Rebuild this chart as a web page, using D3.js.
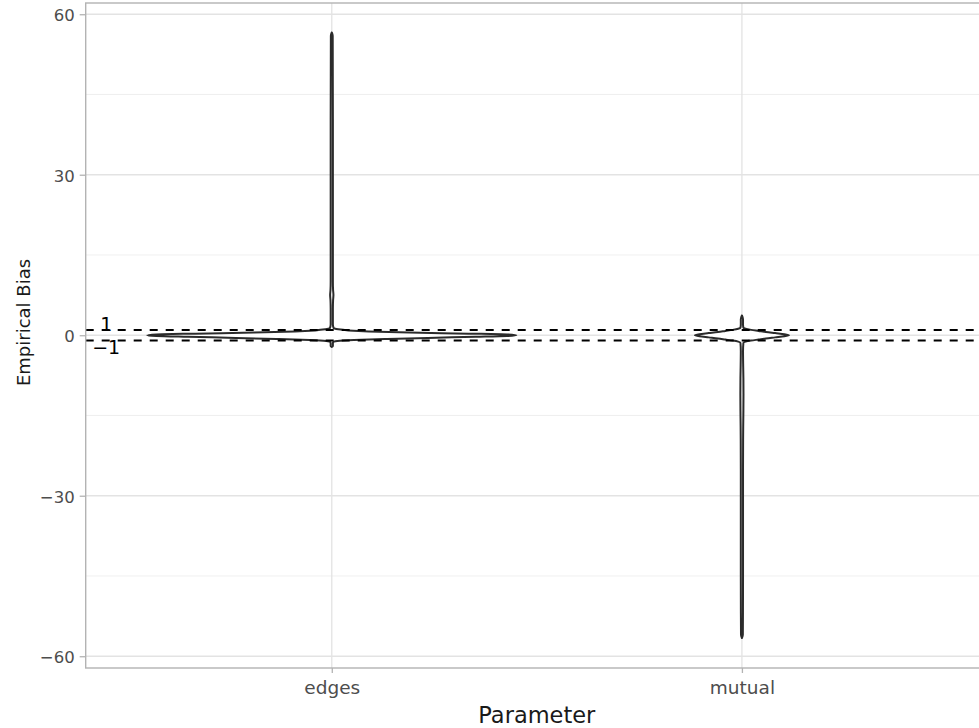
<!DOCTYPE html>
<html>
<head>
<meta charset="utf-8">
<script src="https://cdn.jsdelivr.net/npm/d3@7"></script>
<style>
  html, body { margin: 0; padding: 0; background: #fff; overflow: hidden; }
  svg { display: block; }
</style>
</head>
<body>
<svg id="chart" width="979" height="728"></svg>
<script>
// ---- data ----
const categories = ["edges", "mutual"];
const yTicks = [-60, -30, 0, 30, 60];
const yMinorTicks = [-45, -15, 15, 45];
const refLines = [1, -1];
const refLabels = ["1", "−1"];

// violin outlines: bias value levels and relative half-width (density scaled, 1 = widest)
const edgesBias  = [-2.2, -2.0, -1.6, -1.3, -1.1, -0.9, -0.7, -0.5, -0.3, -0.15, 0, 0.15, 0.3, 0.5, 0.7, 0.9, 1.1, 1.35, 2, 5, 6.5, 7.5, 8.5, 10, 20, 40, 56, 56.6];
const edgesWidth = [0, 0.006, 0.006, 0.007, 0.03, 0.12, 0.3, 0.52, 0.78, 0.95, 1.0, 0.95, 0.74, 0.42, 0.2, 0.09, 0.035, 0.01, 0.006, 0.006, 0.007, 0.009, 0.007, 0.006, 0.006, 0.006, 0.005, 0];
const mutualBias  = [3.7, 3.0, 2.0, 1.4, 1.2, 1.0, 0.8, 0.6, 0.4, 0.2, 0, -0.2, -0.4, -0.6, -0.8, -1.0, -1.2, -1.4, -3, -6, -8, -11, -14, -17, -25, -45, -56, -56.6];
const mutualWidth = [0, 0.006, 0.006, 0.008, 0.02, 0.05, 0.09, 0.13, 0.18, 0.23, 0.255, 0.23, 0.18, 0.13, 0.09, 0.05, 0.02, 0.008, 0.006, 0.007, 0.008, 0.0085, 0.008, 0.007, 0.006, 0.006, 0.005, 0];

const violins = [
  { cat: "edges", bias: edgesBias, width: edgesWidth },
  { cat: "mutual", bias: mutualBias, width: mutualWidth }
];

// ---- layout ----
const svg = d3.select("#chart");
const panel = { left: 85.7, top: 3, right: 988, bottom: 668 };

const xPos = d3.scaleLinear().domain([0.4, categories.length + 0.6]).range([panel.left, panel.right]);
const xCat = c => xPos(categories.indexOf(c) + 1);
const y = d3.scaleLinear().domain([-62.2, 62.1]).range([panel.bottom, panel.top]);
const halfW = d3.scaleLinear().domain([0, 1]).range([0, xPos(1.45) - xPos(1)]);

svg.append("rect").attr("width", 979).attr("height", 728).attr("fill", "#fff");

// grid
const grid = svg.append("g");
grid.selectAll(".minor").data(yMinorTicks).join("line")
  .attr("x1", panel.left).attr("x2", panel.right)
  .attr("y1", d => y(d)).attr("y2", d => y(d))
  .attr("stroke", "#EBEBEB").attr("stroke-width", 0.8);
grid.selectAll(".major").data(yTicks).join("line")
  .attr("x1", panel.left).attr("x2", panel.right)
  .attr("y1", d => y(d)).attr("y2", d => y(d))
  .attr("stroke", "#E3E3E3").attr("stroke-width", 1.3);
grid.selectAll(".vmajor").data(categories).join("line")
  .attr("x1", d => xCat(d)).attr("x2", d => xCat(d))
  .attr("y1", panel.top).attr("y2", panel.bottom)
  .attr("stroke", "#E3E3E3").attr("stroke-width", 1.3);

// violins
const area = d3.area()
  .y(d => y(d.v))
  .x0(d => d.cx - halfW(d.w))
  .x1(d => d.cx + halfW(d.w))
  .curve(d3.curveMonotoneY);

svg.append("g").selectAll("path").data(violins).join("path")
  .attr("d", d => {
    const cx = xCat(d.cat);
    const pts = d.bias.map((v, i) => ({ v, w: d.width[i], cx }))
      .sort((a, b) => a.v - b.v);
    return area(pts);
  })
  .attr("fill", "#fff")
  .attr("stroke", "#2b2b2b")
  .attr("stroke-width", 2)
  .attr("stroke-linejoin", "round");

// reference lines
svg.append("g").selectAll("line").data(refLines).join("line")
  .attr("x1", panel.left).attr("x2", panel.right)
  .attr("y1", d => y(d)).attr("y2", d => y(d))
  .attr("stroke", "#000").attr("stroke-width", 2)
  .attr("stroke-dasharray", "8,8");

// reference labels
svg.append("g").selectAll("text").data(refLines).join("text")
  .attr("x", xPos(0.45))
  .attr("y", d => d > 0 ? y(d) + 1 : y(d) + 13)
  .attr("text-anchor", "middle")
  .attr("font-family", "DejaVu Sans, sans-serif")
  .attr("font-size", 19)
  .attr("fill", "#000")
  .text((d, i) => refLabels[i]);

// panel border (extends past the right edge of the picture)
svg.append("rect")
  .attr("x", panel.left).attr("y", panel.top)
  .attr("width", 1010 - panel.left).attr("height", panel.bottom - panel.top)
  .attr("fill", "none").attr("stroke", "#B3B3B3").attr("stroke-width", 1.4);

// y axis
const yAxis = svg.append("g")
  .attr("transform", `translate(${panel.left},0)`)
  .call(d3.axisLeft(y).tickValues(yTicks).tickSize(6).tickPadding(5).tickFormat(d3.format("d")));
yAxis.select(".domain").remove();
yAxis.selectAll(".tick line").attr("stroke", "#B3B3B3").attr("stroke-width", 1.3);
yAxis.selectAll(".tick text")
  .attr("font-family", "DejaVu Sans, sans-serif").attr("font-size", 16.5)
  .attr("fill", "#4D4D4D").attr("dy", "0.38em");

// x axis
const xAxis = svg.append("g")
  .attr("transform", `translate(0,${panel.bottom})`)
  .call(d3.axisBottom(xPos).tickValues(categories.map((c, i) => i + 1)).tickSize(5).tickPadding(8)
    .tickFormat(d => categories[d - 1]));
xAxis.select(".domain").remove();
xAxis.selectAll(".tick line").attr("stroke", "#B3B3B3").attr("stroke-width", 1.3);
xAxis.selectAll(".tick text")
  .attr("font-family", "DejaVu Sans, sans-serif").attr("font-size", 18.5)
  .attr("fill", "#4D4D4D");

// axis titles
svg.append("text")
  .attr("x", (panel.left + panel.right) / 2).attr("y", 723)
  .attr("text-anchor", "middle")
  .attr("font-family", "DejaVu Sans, sans-serif").attr("font-size", 22.5)
  .attr("fill", "#1a1a1a")
  .text("Parameter");

svg.append("text")
  .attr("transform", `translate(30,322.5) rotate(-90)`)
  .attr("text-anchor", "middle")
  .attr("font-family", "DejaVu Sans, sans-serif").attr("font-size", 18)
  .attr("fill", "#1a1a1a")
  .text("Empirical Bias");
</script>
</body>
</html>
